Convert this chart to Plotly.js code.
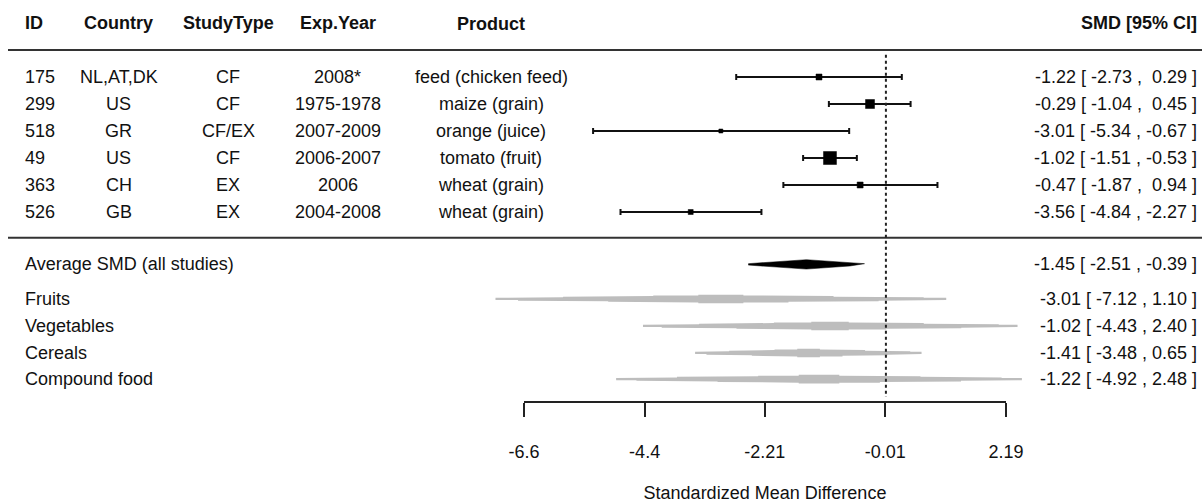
<!DOCTYPE html>
<html>
<head>
<meta charset="utf-8">
<script src="https://cdn.plot.ly/plotly-3.0.1.min.js"></script>
<style>html,body{margin:0;padding:0;background:#fff;}#chart{width:1202px;height:503px;}</style>
</head>
<body>
<div id="chart"></div>
<script>
// ---------------- data ----------------
const headers = ['ID', 'Country', 'StudyType', 'Exp.Year', 'Product', 'SMD [95% CI]'];
const ids = ['175', '299', '518', '49', '363', '526'];
const countries = ['NL,AT,DK', 'US', 'GR', 'US', 'CH', 'GB'];
const studyTypes = ['CF', 'CF', 'CF/EX', 'CF', 'EX', 'EX'];
const expYears = ['2008*', '1975-1978', '2007-2009', '2006-2007', '2006', '2004-2008'];
const products = ['feed (chicken feed)', 'maize (grain)', 'orange (juice)', 'tomato (fruit)', 'wheat (grain)', 'wheat (grain)'];
const smd = [-1.22, -0.29, -3.01, -1.02, -0.47, -3.56];
const ciLow = [-2.73, -1.04, -5.34, -1.51, -1.87, -4.84];
const ciHigh = [0.29, 0.45, -0.67, -0.53, 0.94, -2.27];

const summaryLabels = ['Average SMD (all studies)', 'Fruits', 'Vegetables', 'Cereals', 'Compound food'];
const summarySmd = [-1.45, -3.01, -1.02, -1.41, -1.22];
const summaryLow = [-2.51, -7.12, -4.43, -3.48, -4.92];
const summaryHigh = [-0.39, 1.10, 2.40, 0.65, 2.48];

const axisTicks = [-6.6, -4.4, -2.21, -0.01, 2.19];
const axisTickLabels = ['-6.6', '-4.4', '-2.21', '-0.01', '2.19'];
const axisTitle = 'Standardized Mean Difference';

// ---------------- layout constants (pixels / styles) ----------------
const W = 1202, H = 503;
const ROW0 = 77, ROWH = 27;                 // pixel of first study row, row height
const studyRows = [0, 1, 2, 3, 4, 5];
const summaryRows = [6.94, 8.22, 9.22, 10.22, 11.19];
const headerRow = -2.0, headerLine = -1.0, sepLine = 5.95;
const squareSizes = [6, 9, 4, 13, 6, 5];
const axisPx0 = 524, axisPx1 = 1006, axisLinePx = 402;
const colX = {id: 24, country: 118.5, type: 228, year: 338, product: 491, smd: 1198};
const FONT = '"Liberation Sans", Arial, "DejaVu Sans", sans-serif';
const FS = 18, TXT = '#111';

// scales
const k = (axisPx1 - axisPx0) / (axisTicks[axisTicks.length - 1] - axisTicks[0]); // px per unit
const xMin = axisTicks[0] - axisPx0 / k;
const xMax = xMin + W / k;
const yTop = -ROW0 / ROWH, yBot = (H - ROW0) / ROWH;
const pxY = p => p / ROWH;   // px -> y units

function fmt(v, pad) {
  const s = v.toFixed(2);
  return (pad && v >= 0) ? '\u00a0' + s : s;
}
function ciText(m, lo, hi, pad) {
  return fmt(m, false) + ' [ ' + fmt(lo, false) + ' , ' + fmt(hi, pad) + ' ]';
}

const traces = [];

// study CIs and squares
traces.push({
  type: 'scatter', mode: 'markers', x: smd, y: studyRows,
  marker: {symbol: 'square', size: squareSizes, color: '#000', opacity: 1, line: {width: 0.5, color: '#000'}},
  error_x: {type: 'data', symmetric: false,
    array: smd.map((m, i) => ciHigh[i] - m),
    arrayminus: smd.map((m, i) => m - ciLow[i]),
    color: '#111', thickness: 2, width: 3},
  hoverinfo: 'skip', showlegend: false, cliponaxis: false
});

// stepped grey subgroup shapes
const F = [1, 0.9, 0.7, 0.5, 0.3, 0.1];
const HH = [1.1, 1.7, 2.3, 2.9, 3.5, 4.3];
function steppedShape(m, lo, hi, y) {
  const xs = [], ys = [];
  const xl = F.map(f => m - f * (m - lo));
  const xr = F.map(f => m + f * (hi - m));
  // top side, left to right
  for (let i = 0; i < F.length; i++) {
    xs.push(xl[i]); ys.push(y - pxY(HH[i]));
    if (i < F.length - 1) { xs.push(xl[i + 1]); ys.push(y - pxY(HH[i])); }
  }
  for (let i = F.length - 1; i >= 0; i--) {
    xs.push(xr[i]); ys.push(y - pxY(HH[i]));
    if (i > 0) { xs.push(xr[i]); ys.push(y - pxY(HH[i - 1])); }
  }
  // bottom side, right to left
  for (let i = 0; i < F.length; i++) {
    xs.push(xr[i]); ys.push(y + pxY(HH[i]));
    if (i < F.length - 1) { xs.push(xr[i + 1]); ys.push(y + pxY(HH[i])); }
  }
  for (let i = F.length - 1; i >= 0; i--) {
    xs.push(xl[i]); ys.push(y + pxY(HH[i]));
    if (i > 0) { xs.push(xl[i]); ys.push(y + pxY(HH[i - 1])); }
  }
  return {xs, ys};
}
for (let j = 1; j < summarySmd.length; j++) {
  const s = steppedShape(summarySmd[j], summaryLow[j], summaryHigh[j], summaryRows[j]);
  traces.push({type: 'scatter', mode: 'lines', x: s.xs, y: s.ys, fill: 'toself',
    fillcolor: '#bdbdbd', line: {width: 0, color: '#bdbdbd'},
    hoverinfo: 'skip', showlegend: false});
}

// black concave diamond for the overall average
(function () {
  const m = summarySmd[0], lo = summaryLow[0], hi = summaryHigh[0], y = summaryRows[0];
  const Fd = [1, 0.75, 0.5, 0.25, 0];
  const Hd = [0.7, 1.6, 2.6, 3.7, 4.7];
  const xs = [], ys = [];
  Fd.forEach((f, i) => { xs.push(m - f * (m - lo)); ys.push(y - pxY(Hd[i])); });
  for (let i = Fd.length - 2; i >= 0; i--) { xs.push(m + Fd[i] * (hi - m)); ys.push(y - pxY(Hd[i])); }
  for (let i = 1; i < Fd.length; i++) { xs.push(m + Fd[i] * (hi - m)); ys.push(y + pxY(Hd[i])); }
  for (let i = Fd.length - 2; i >= 0; i--) { xs.push(m - Fd[i] * (m - lo)); ys.push(y + pxY(Hd[i])); }
  traces.push({type: 'scatter', mode: 'lines', x: xs, y: ys, fill: 'toself',
    fillcolor: '#000', line: {width: 0.5, color: '#000'}, hoverinfo: 'skip', showlegend: false});
})();

// invisible trace to anchor the bottom axis
traces.push({type: 'scatter', mode: 'markers', x: axisTicks, y: axisTicks.map(() => 12),
  xaxis: 'x2', yaxis: 'y', marker: {opacity: 0}, hoverinfo: 'skip', showlegend: false});

// ---------------- annotations ----------------
const ann = [];
function addText(text, px, y, anchor, bold) {
  ann.push({text: bold ? '<b>' + text + '</b>' : text, xref: 'paper', x: px / W, yref: 'y', y: y,
    xanchor: anchor, yanchor: 'middle', showarrow: false,
    font: {family: FONT, size: FS, color: TXT}, borderpad: 0});
}
addText(headers[0], colX.id, headerRow, 'left', true);
addText(headers[1], colX.country, headerRow, 'center', true);
addText(headers[2], colX.type, headerRow, 'center', true);
addText(headers[3], colX.year, headerRow, 'center', true);
addText(headers[4], colX.product, headerRow + 0.05, 'center', true);
addText(headers[5], colX.smd, headerRow, 'right', true);
studyRows.forEach((r, i) => {
  addText(ids[i], colX.id, r, 'left');
  addText(countries[i], colX.country, r, 'center');
  addText(studyTypes[i], colX.type, r, 'center');
  addText(expYears[i], colX.year, r, 'center');
  addText(products[i], colX.product, r, 'center');
  addText(ciText(smd[i], ciLow[i], ciHigh[i], true), colX.smd, r, 'right');
});
summaryRows.forEach((r, i) => {
  addText(summaryLabels[i], colX.id, r, 'left');
  addText(ciText(summarySmd[i], summaryLow[i], summaryHigh[i], false), colX.smd, r, 'right');
});

// ---------------- shapes ----------------
const shapes = [
  {type: 'line', xref: 'paper', yref: 'y', x0: 8 / W, x1: 1, y0: headerLine, y1: headerLine, line: {color: '#333', width: 2}},
  {type: 'line', xref: 'paper', yref: 'y', x0: 8 / W, x1: 1, y0: sepLine, y1: sepLine, line: {color: '#333', width: 2}},
  {type: 'line', xref: 'x', yref: 'y', x0: 0, x1: 0, y0: -0.82, y1: 11.85, line: {color: '#222', width: 2, dash: 'dot'}}
];

const layout = {
  width: W, height: H, autosize: false,
  margin: {l: 0, r: 0, t: 0, b: 0, pad: 0},
  paper_bgcolor: '#fff', plot_bgcolor: 'rgba(0,0,0,0)',
  showlegend: false,
  xaxis: {range: [xMin, xMax], visible: false, fixedrange: true},
  yaxis: {range: [yBot, yTop], visible: false, fixedrange: true},
  xaxis2: {
    domain: [axisPx0 / W, axisPx1 / W], range: [axisTicks[0], axisTicks[axisTicks.length - 1]],
    anchor: 'free', position: 1 - axisLinePx / H,
    tickmode: 'array', tickvals: axisTicks, ticktext: axisTickLabels,
    ticks: 'outside', ticklen: 14, tickwidth: 2, tickcolor: '#222',
    showline: true, linewidth: 2, linecolor: '#222', showgrid: false, zeroline: false,
    ticklabelstandoff: 19,
    tickfont: {family: FONT, size: FS, color: TXT},
    title: {text: axisTitle, font: {family: FONT, size: FS, color: TXT}, standoff: 31},
    automargin: false, fixedrange: true
  },
  annotations: ann,
  shapes: shapes,
  font: {family: FONT, size: FS, color: TXT}
};

Plotly.newPlot('chart', traces, layout, {staticPlot: true, displayModeBar: false});
</script>
</body>
</html>
